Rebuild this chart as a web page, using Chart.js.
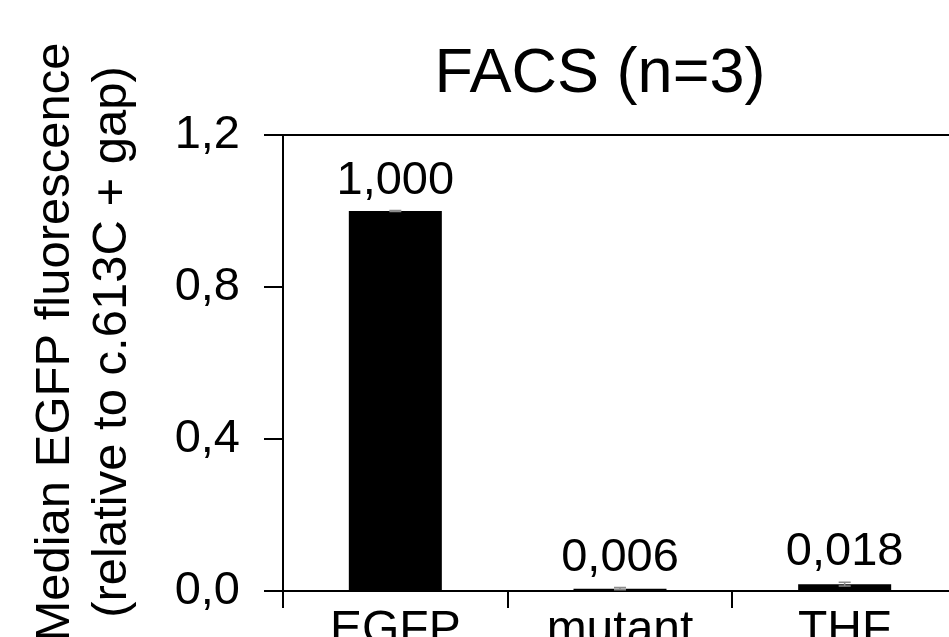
<!DOCTYPE html>
<html>
<head>
<meta charset="utf-8">
<script src="https://cdn.jsdelivr.net/npm/chart.js@4"></script>
<style>
  html, body { margin: 0; padding: 0; background: #fff; overflow: hidden; }
  #wrap { width: 1000px; height: 680px; }
</style>
</head>
<body>
<div id="wrap"><canvas id="chart"></canvas></div>
<script>
// data
const categories = ['EGFP', 'mutant', 'THF'];
const values = [1.000, 0.006, 0.018];
const errors = [0.001, 0.003, 0.005];
const valueLabels = ['1,000', '0,006', '0,018'];
const yTicks = [0, 0.4, 0.8, 1.2];
const chartTitle = 'FACS (n=3)';
const yTitle = ['Median EGFP fluorescence', '(relative to c.613C + gap)'];

const FONT = '"Liberation Sans", Arial, sans-serif';

// error bars, value labels, title and y title
const extras = {
  id: 'extras',
  afterDatasetsDraw(chart) {
    const ctx = chart.ctx;
    const y = chart.scales.y;
    const meta = chart.getDatasetMeta(0);
    ctx.save();
    meta.data.forEach((bar, i) => {
      const top = y.getPixelForValue(values[i] + errors[i]);
      const bot = y.getPixelForValue(values[i] - errors[i]);
      ctx.strokeStyle = '#8c8c8c';
      ctx.lineWidth = 1.5;
      ctx.beginPath();
      ctx.moveTo(bar.x, top); ctx.lineTo(bar.x, bot);
      ctx.moveTo(bar.x - 6, top); ctx.lineTo(bar.x + 6, top);
      ctx.moveTo(bar.x - 6, bot); ctx.lineTo(bar.x + 6, bot);
      ctx.stroke();

      ctx.fillStyle = '#000';
      ctx.font = '47px ' + FONT;
      ctx.textAlign = 'center';
      ctx.textBaseline = 'alphabetic';
      ctx.fillText(valueLabels[i], bar.x, top - 17);
    });

    // chart title
    ctx.font = '63px ' + FONT;
    ctx.textAlign = 'center';
    ctx.fillText(chartTitle, 600, 92);

    // two-line y axis title
    ctx.font = '49px ' + FONT;
    [69, 126].forEach((bx, k) => {
      ctx.save();
      ctx.translate(bx, 342);
      ctx.rotate(-Math.PI / 2);
      ctx.fillText(yTitle[k], 0, 0);
      ctx.restore();
    });
    ctx.restore();
  }
};

new Chart(document.getElementById('chart'), {
  type: 'bar',
  data: {
    labels: categories,
    datasets: [{
      data: values,
      backgroundColor: '#000',
      borderWidth: 0,
      barPercentage: 0.414,
      categoryPercentage: 1
    }]
  },
  options: {
    responsive: true,
    maintainAspectRatio: false,
    animation: false,
    layout: { padding: { top: 135, right: 43, left: 0, bottom: 0 } },
    plugins: {
      legend: { display: false },
      tooltip: { enabled: false },
      title: { display: false }
    },
    scales: {
      x: {
        afterFit(scale) { scale.height = 89; },
        border: { color: '#000', width: 2 },
        grid: {
          offset: true,
          drawOnChartArea: false,
          tickColor: '#000',
          tickLength: 17,
          lineWidth: 2
        },
        ticks: {
          color: '#000',
          padding: -6,
          font: { family: FONT, size: 48 }
        }
      },
      y: {
        min: 0,
        max: 1.2,
        afterFit(scale) { scale.width = 283; },
        afterBuildTicks(scale) { scale.ticks = yTicks.map(v => ({ value: v })); },
        border: { color: '#000', width: 2 },
        grid: {
          color: ctx => (ctx.tick && ctx.tick.value === 1.2 ? '#000' : 'rgba(0,0,0,0)'),
          tickColor: '#000',
          tickLength: 19,
          lineWidth: 2
        },
        ticks: {
          color: '#000',
          padding: 24,
          font: { family: FONT, size: 47 },
          callback: v => v.toFixed(1).replace('.', ',')
        }
      }
    }
  },
  plugins: [extras]
});
</script>
</body>
</html>
